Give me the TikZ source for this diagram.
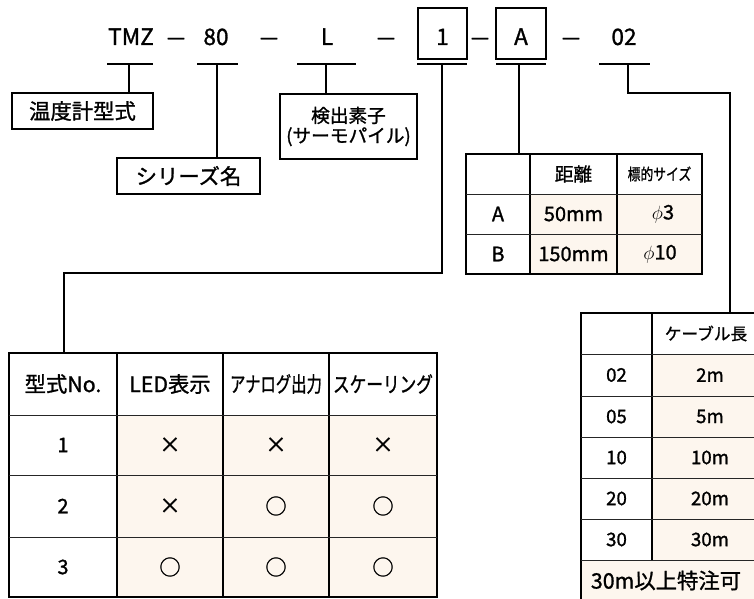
\documentclass[tikz,border=0pt]{standalone}
\usepackage{fontspec}
\usepackage{graphicx}
\setmainfont[FakeBold=1.2]{Noto Sans CJK JP}
\newcommand{\setfs}[1]{\fontsize{#1}{#1}\selectfont}
\newcommand{\narrow}[2]{\scalebox{#1}[1]{#2}}
\definecolor{cream}{RGB}{253,246,238}
\begin{document}
\begin{tikzpicture}[x=0.75pt,y=-0.75pt,
  bar/.style={line width=2pt},
  link/.style={line width=1.4pt},
  toptext/.style={inner sep=0pt, outer sep=0pt, anchor=base, font=\setfs{17pt}},
  box/.style={draw, line width=1pt, inner sep=0pt, outer sep=0pt, align=center},
  frame/.style={draw, line width=1.4pt, inner sep=0pt, outer sep=0pt},
  rowline/.style={line width=0.7pt, black!85},
  colline/.style={line width=1pt},
  cell/.style={inner sep=0pt, outer sep=0pt},
  hdr/.style={cell, font=\setfs{16pt}},
  num/.style={cell, font=\setfs{15pt}},
  sm/.style={cell, font=\setfs{14pt}},
]
\useasboundingbox (0,0) rectangle (754,599);
\clip (0,0) rectangle (754,599);

% ---------- top code row ----------
\node[toptext] (tmz) at (131,45) {TMZ};
\node[toptext] (d1) at (176,45) {\narrow{1.6}{–}};
\node[toptext] (t80) at (216,45) {80};
\node[toptext] (d2) at (269,45) {\narrow{1.6}{–}};
\node[toptext] (tL) at (327,45) {L};
\node[toptext] (d3) at (386,45) {\narrow{1.6}{–}};
\node[box, minimum width=36.75pt, minimum height=38.25pt] (b1) at (442.5,33.5) {};
\node[toptext] (t1) at (442.5,45) {1};
\node[toptext] (d4) at (480,45) {\narrow{1.6}{–}};
\node[box, minimum width=37.5pt, minimum height=38.25pt] (bA) at (521,33.5) {};
\node[toptext] (tA) at (521,45) {A};
\node[toptext] (d5) at (571,45) {\narrow{1.6}{–}};
\node[toptext] (t02) at (624,45) {02};

% bars
\draw[bar] (107,64) -- (153,64);
\draw[bar] (197,64) -- (238,64);
\draw[bar] (297,64) -- (356,64);
\draw[bar] (417,64) -- (467,64);
\draw[bar] (496,64) -- (546,64);
\draw[bar] (599,64) -- (650,64);
\coordinate (kT) at (129,64);
\coordinate (k80) at (217,64);
\coordinate (kL) at (326,64);
\coordinate (k1) at (442,64);
\coordinate (kA) at (519,64);
\coordinate (k02) at (628,64);
\coordinate (j1) at (64,273);
\coordinate (j02) at (730,93);

% ---------- label boxes ----------
\node[box, minimum width=105.75pt, minimum height=27pt, font=\setfs{16pt}] (bxT) at (82.5,111) {温度計型式};
\node[box, minimum width=107.25pt, minimum height=27pt, font=\setfs{16pt}] (bxS) at (188.5,176) {シリーズ名};
\node[box, minimum width=102.75pt, minimum height=48.75pt, font=\setfs{14pt}, align=center] (bxL) at (348.5,126.5) {検出素子\\[1pt](サーモパイル)};

% ---------- fills ----------
\fill[cream] (117,415) rectangle (437,597);
\fill[cream] (530,194) rectangle (702,274);
\fill[cream] (652,354) rectangle (762,601);
\fill[cream] (581,560) rectangle (762,601);

% ---------- table frames ----------
\node[frame, minimum width=321pt, minimum height=183pt] (tabM) at (223,475) {};
\node[frame, minimum width=177pt, minimum height=90pt] (tabD) at (584,214) {};
\node[frame, minimum width=135.75pt, minimum height=216pt] (tabC) at (671.5,457) {};

% ---------- connectors ----------
\draw[link] (kT) -- (kT |- bxT.north);
\draw[link] (k80) -- (k80 |- bxS.north);
\draw[link] (kL) -- (kL |- bxL.north);
\draw[link] (k1) |- (j1) -- (j1 |- tabM.north);
\draw[link] (kA) -- (kA |- tabD.north);
\draw[link] (k02) |- (j02) -- (j02 |- tabC.north);

% ---------- distance table ----------
\foreach \x in {530,617} \draw[colline] (\x,154) -- (\x,274);
\foreach \y in {194,234} \draw[rowline] (466,\y) -- (702,\y);
\node[cell, font=\setfs{14pt}] (dH1) at (573.5,174) {距離};
\node[cell, font=\setfs{12pt}] (dH2) at (659.5,174) {\narrow{0.8}{標的サイズ}};
\node[num] (dA) at (498,214) {A};
\node[num] (dA1) at (573.5,214) {50mm};
\node[num] (dA2) at (663,214) {$\phi$3};
\node[num] (dB) at (498,254) {B};
\node[num] (dB1) at (573.5,254) {150mm};
\node[num] (dB2) at (660,254) {$\phi$10};

% ---------- model table ----------
\foreach \x in {117,223,329} \draw[colline] (\x,353) -- (\x,597);
\foreach \y in {415,475,537} \draw[rowline] (9,\y) -- (437,\y);
\node[hdr] (mH1) at (63,384) {型式No.};
\node[hdr] (mH2) at (170,384) {LED表示};
\node[hdr] (mH3) at (276,384) {\narrow{0.72}{アナログ出力}};
\node[hdr] (mH4) at (383,384) {\narrow{0.78}{スケーリング}};
\node[num] (m1) at (63,445) {1};
\node[hdr] (m1a) at (170,445) {×};
\node[hdr] (m1b) at (276,445) {×};
\node[hdr] (m1c) at (383,445) {×};
\node[num] (m2) at (63,506) {2};
\node[hdr] (m2a) at (170,506) {×};
\node[hdr] (m2b) at (276,506) {○};
\node[hdr] (m2c) at (383,506) {○};
\node[num] (m3) at (63,567) {3};
\node[hdr] (m3a) at (170,567) {○};
\node[hdr] (m3b) at (276,567) {○};
\node[hdr] (m3c) at (383,567) {○};

% ---------- cable table ----------
\draw[colline] (652,313) -- (652,560);
\foreach \y in {354,396,437,478,519,560} \draw[rowline] (581,\y) -- (762,\y);
\node[cell, font=\setfs{12.5pt}] (cH) at (706,333.5) {ケーブル長};
\node[sm] (c1) at (616.5,375) {02};
\node[sm] (c1v) at (710,375) {2m};
\node[sm] (c2) at (616.5,416.5) {05};
\node[sm] (c2v) at (710,416.5) {5m};
\node[sm] (c3) at (616.5,457.5) {10};
\node[sm] (c3v) at (710,457.5) {10m};
\node[sm] (c4) at (616.5,498.5) {20};
\node[sm] (c4v) at (710,498.5) {20m};
\node[sm] (c5) at (616.5,539.5) {30};
\node[sm] (c5v) at (710,539.5) {30m};
\node[hdr] (cN) at (666,580.5) {30m以上特注可};
\end{tikzpicture}
\end{document}
